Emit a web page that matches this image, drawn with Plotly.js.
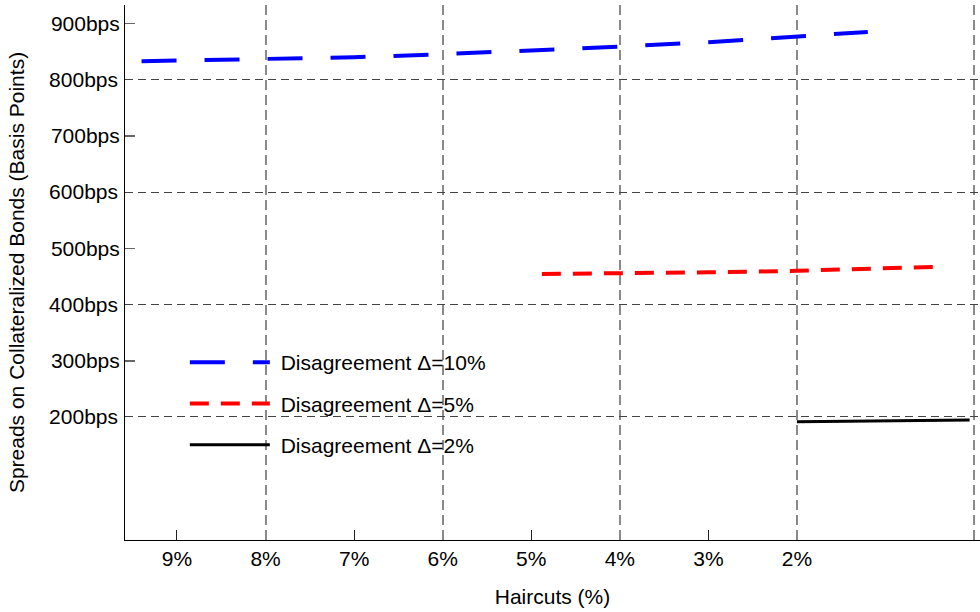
<!DOCTYPE html>
<html>
<head>
<meta charset="utf-8">
<script src="https://cdn.plot.ly/plotly-3.0.1.min.js"></script>
<style>html,body{margin:0;padding:0;background:#fff;}#chart{width:980px;height:612px;}</style>
</head>
<body>
<div id="chart"></div>
<script>
// Haircuts (%) and spreads (bps)
const haircutBlue = [9.4, 9, 8, 7, 6, 5, 4, 3, 2, 1.2];
const spreadBlue  = [832.5, 833.5, 835.9, 839.6, 845, 851.2, 858.5, 866.4, 876.2, 884.6];
const haircutRed  = [4.88, 4, 3, 2, 1, 0.39];
const spreadRed   = [454.3, 455.2, 457.3, 459.9, 464.3, 467.2];
const haircutBlack = [2, 1, 0.05];
const spreadBlack  = [191.6, 193, 194.7];

const seriesNames = ['Disagreement Δ=10%', 'Disagreement Δ=5%', 'Disagreement Δ=2%'];

const xTickOdd = [3, 5, 7, 9];
const xTickEven = [0, 2, 4, 6, 8];
const xTextOdd = ['3%', '5%', '7%', '9%'];
const xTextEven = ['', '2%', '4%', '6%', '8%'];
const yTickOdd = [300, 500, 700, 900];
const yTickEven = [200, 400, 600, 800];
const yTextOdd = ['300bps', '500bps', '700bps', '900bps'];
const yTextEven = ['200bps', '400bps', '600bps', '800bps'];

const FONT = 'Liberation Sans, Arial, sans-serif';
const xRange = [9.587, -0.067];
const yRange = [-18.7, 932.5];

const traces = [
  {x: haircutBlue, y: spreadBlue, name: '\u00A0' + seriesNames[0], mode: 'lines', legendgroup: 'a',
   line: {color: '#0000ff', width: 4, dash: '35px,28px'}},
  {x: haircutRed, y: spreadRed, name: '\u00A0' + seriesNames[1], mode: 'lines', legendgroup: 'b',
   line: {color: '#ff0000', width: 4, dash: '19px,12px'}},
  {x: haircutBlack, y: spreadBlack, name: '\u00A0' + seriesNames[2], mode: 'lines', legendgroup: 'c',
   line: {color: '#000000', width: 3}},
  // same black series on the overlay axes (invisible) so the gridline axes get drawn
  {x: haircutBlack, y: spreadBlack, xaxis: 'x2', yaxis: 'y2', mode: 'lines', showlegend: false,
   hoverinfo: 'skip', line: {color: 'rgba(0,0,0,0)', width: 0}}
];

const layout = {
  width: 980, height: 612,
  margin: {l: 125, r: 0, t: 5, b: 72},
  paper_bgcolor: '#fff', plot_bgcolor: '#fff',
  font: {family: FONT, size: 21, color: '#000'},
  showlegend: true,
  legend: {x: 0.07, y: 0.37, xanchor: 'left', yanchor: 'top', bgcolor: 'rgba(0,0,0,0)',
           font: {family: FONT, size: 21, color: '#000'}, itemwidth: 80,
           traceorder: 'grouped', tracegroupgap: 11},
  xaxis: {range: xRange, tickmode: 'array', tickvals: xTickOdd, ticktext: xTextOdd,
          ticks: 'inside', ticklen: 10, tickcolor: '#222', tickwidth: 1,
          showgrid: false, zeroline: false, showline: true, linecolor: '#000', linewidth: 1,
          tickfont: {family: FONT, size: 21}, ticklabelstandoff: 0,
          title: {text: 'Haircuts (%)', font: {family: FONT, size: 21}, standoff: 20}},
  xaxis2: {range: xRange, overlaying: 'x', anchor: 'y2', side: 'bottom', tickmode: 'array',
           tickvals: xTickEven, ticktext: xTextEven, ticks: '',
           showgrid: true, gridcolor: '#8a8a8a', gridwidth: 2, griddash: '10px,5px',
           zeroline: false, showline: false, tickfont: {family: FONT, size: 21}, ticklabelstandoff: 4},
  yaxis: {range: yRange, tickmode: 'array', tickvals: yTickOdd, ticktext: yTextOdd,
          ticks: 'inside', ticklen: 10, tickcolor: '#666', tickwidth: 1.5,
          showgrid: false, zeroline: false, showline: true, linecolor: '#000', linewidth: 1,
          tickfont: {family: FONT, size: 21}, ticklabelstandoff: 0,
          title: {text: 'Spreads on Collateralized Bonds (Basis Points)', font: {family: FONT, size: 21}, standoff: 20}},
  yaxis2: {range: yRange, overlaying: 'y', anchor: 'x2', side: 'left', tickmode: 'array',
           tickvals: yTickEven, ticktext: yTextEven, ticks: '',
           showgrid: true, gridcolor: '#444', gridwidth: 1, griddash: '8px,5px',
           zeroline: false, showline: false, tickfont: {family: FONT, size: 21}, ticklabelstandoff: 6}
};

Plotly.newPlot('chart', traces, layout, {displayModeBar: false, staticPlot: true});
</script>
</body>
</html>
